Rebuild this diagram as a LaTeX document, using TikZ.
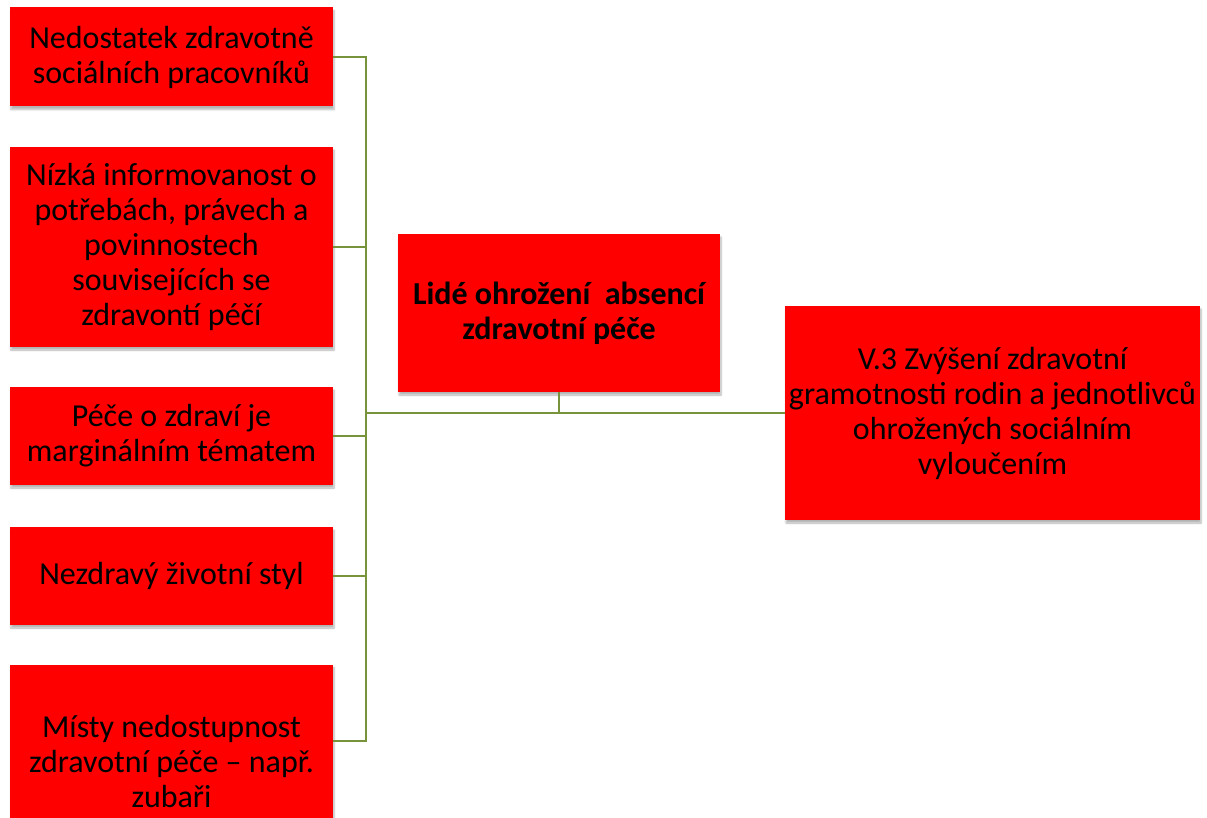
\documentclass[tikz,border=0pt]{standalone}
\usepackage{fontspec}
\setmainfont{Carlito}
\usepackage{tikz}
\usetikzlibrary{calc}
\usetikzlibrary{shadows.blur}
\usetikzlibrary{positioning}
\definecolor{boxred}{RGB}{255,0,0}
\definecolor{linkgreen}{RGB}{119,147,60}

\begin{document}
\begin{tikzpicture}[
        x=1pt, y=-1pt,
        cause/.style={rectangle, fill=boxred, minimum width=323pt, inner sep=0, align=center,
            font=\fontsize{32}{35}\selectfont,
            blur shadow={shadow xshift=1pt, shadow yshift=-3pt, shadow opacity=30, shadow blur steps=6}},
        problem/.style={cause, minimum width=322pt, minimum height=158pt, font=\bfseries\fontsize{32}{35}\selectfont},
        goal/.style={cause, minimum width=415pt, minimum height=214pt},
        link/.style={draw=linkgreen, line width=2pt}
    ]

        % obrazek ma pevnou velikost
        \useasboundingbox (0,0) rectangle (1207,818);

        % Priciny (levy sloupec)
        \node[cause, minimum height=99pt] (c1) at (171.5, 57) {Nedostatek zdravotně\\sociálních pracovníků};
        \node[cause, minimum height=200pt] (c2) at (171.5, 247) {Nízká informovanost o\\potřebách, právech a\\povinnostech\\souvisejících se\\zdravontí péčí};
        \node[cause, minimum height=98pt] (c3) at (171.5, 436) {Péče o zdraví je\\marginálním tématem};
        \node[cause, minimum height=98pt] (c4) at (171.5, 576) {Nezdravý životní styl};
        \node[cause, minimum height=195pt] (c5) at (171.5, 762) {Místy nedostupnost\\zdravotní péče -- např.\\zubaři};

        % Problem a cil
        \node[problem] (problem) at (559, 313) {Lidé ohrožení \ absencí\\zdravotní péče};
        \node[goal] (goal) at (992.5, 413) {V.3 Zvýšení zdravotní\\gramotnosti rodin a jednotlivců\\ohrožených sociálním\\vyloučením};

        % spojnice
        \coordinate (bus) at (366, 413);
        \coordinate (c5-in) at ($(c5.north east)+(0,77)$);
        \foreach \i in {1,...,4}{
            \draw[link] (c\i.east) -- (c\i.east -| bus) -- (bus);
        }
        \draw[link] (c5-in) -- (c5-in -| bus) -- (bus);
        \draw[link] (bus) -- (goal.west);
        \draw[link] (problem.south) -- (problem.south |- bus);

    \end{tikzpicture}
\end{document}
